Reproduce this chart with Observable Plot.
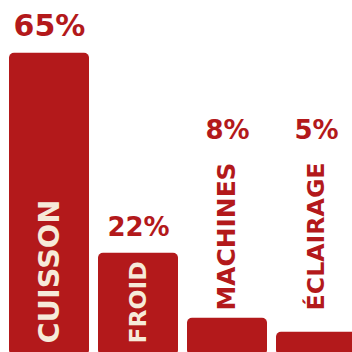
<!DOCTYPE html>
<html><head><meta charset="utf-8">
<script src="https://cdn.jsdelivr.net/npm/d3@7"></script>
<script src="https://cdn.jsdelivr.net/npm/@observablehq/plot@0.6"></script>
<style>body{margin:0;background:#fff;overflow:hidden}</style>
</head><body><div id="chart"></div>
<script>
const categories = ["CUISSON", "FROID", "MACHINES", "ÉCLAIRAGE"];
const values = [65, 22, 8, 5];
const valueLabels = ["65%", "22%", "8%", "5%"];

const RED = "#b3191b", CREAM = "#f6ead9";
const FONT = "DejaVu Sans";
const W = 352, H = 352;
const Y0 = 355, PX = 4.65; // pixel of zero, pixels per unit
const data = categories.map((c, i) => ({cat: c, v: values[i], pct: valueLabels[i]}));

const ctx = document.createElement("canvas").getContext("2d");
function fitSize(text, len) {
  ctx.font = `bold 100px "${FONT}"`;
  return 100 * len / ctx.measureText(text).width;
}
const isInside = d => d.v >= 20;
const labelLen = d => isInside(d) ? Math.min(144, d.v * PX - 20) : 148;
data.forEach(d => { d.fs = fitSize(d.cat, labelLen(d)); });

const inside = data.filter(isInside);
const outside = data.filter(d => !isInside(d));

const chart = Plot.plot({
  width: W, height: H,
  margin: 0,
  style: {fontFamily: FONT, background: "#fff"},
  x: {domain: categories, range: [8, 356.3], paddingInner: 0.1, paddingOuter: 0, axis: null},
  y: {domain: [0, 65], range: [Y0, Y0 - 65 * PX], axis: null},
  marks: [
    Plot.barY(data, {x: "cat", y: "v", fill: RED, rx: 5}),
    Plot.text(data, {
      x: "cat", y: d => isInside(d) ? d.v : 43, text: "pct",
      lineAnchor: "bottom", dy: -17, fill: RED, fontWeight: "bold",
      fontSize: d => d.v > 50 ? 30 : 26
    }),
    Plot.text(inside, {
      x: "cat", y: 0, text: "cat", rotate: -90, textAnchor: "start", lineAnchor: "middle",
      dy: -12, fill: CREAM, fontWeight: "bold", fontSize: "fs"
    }),
    Plot.text(outside, {
      x: "cat", y: 25.6, text: "cat", rotate: -90, textAnchor: "middle", lineAnchor: "middle",
      fill: RED, fontWeight: "bold", fontSize: "fs"
    })
  ]
});
document.getElementById("chart").append(chart);
</script>
</body></html>
